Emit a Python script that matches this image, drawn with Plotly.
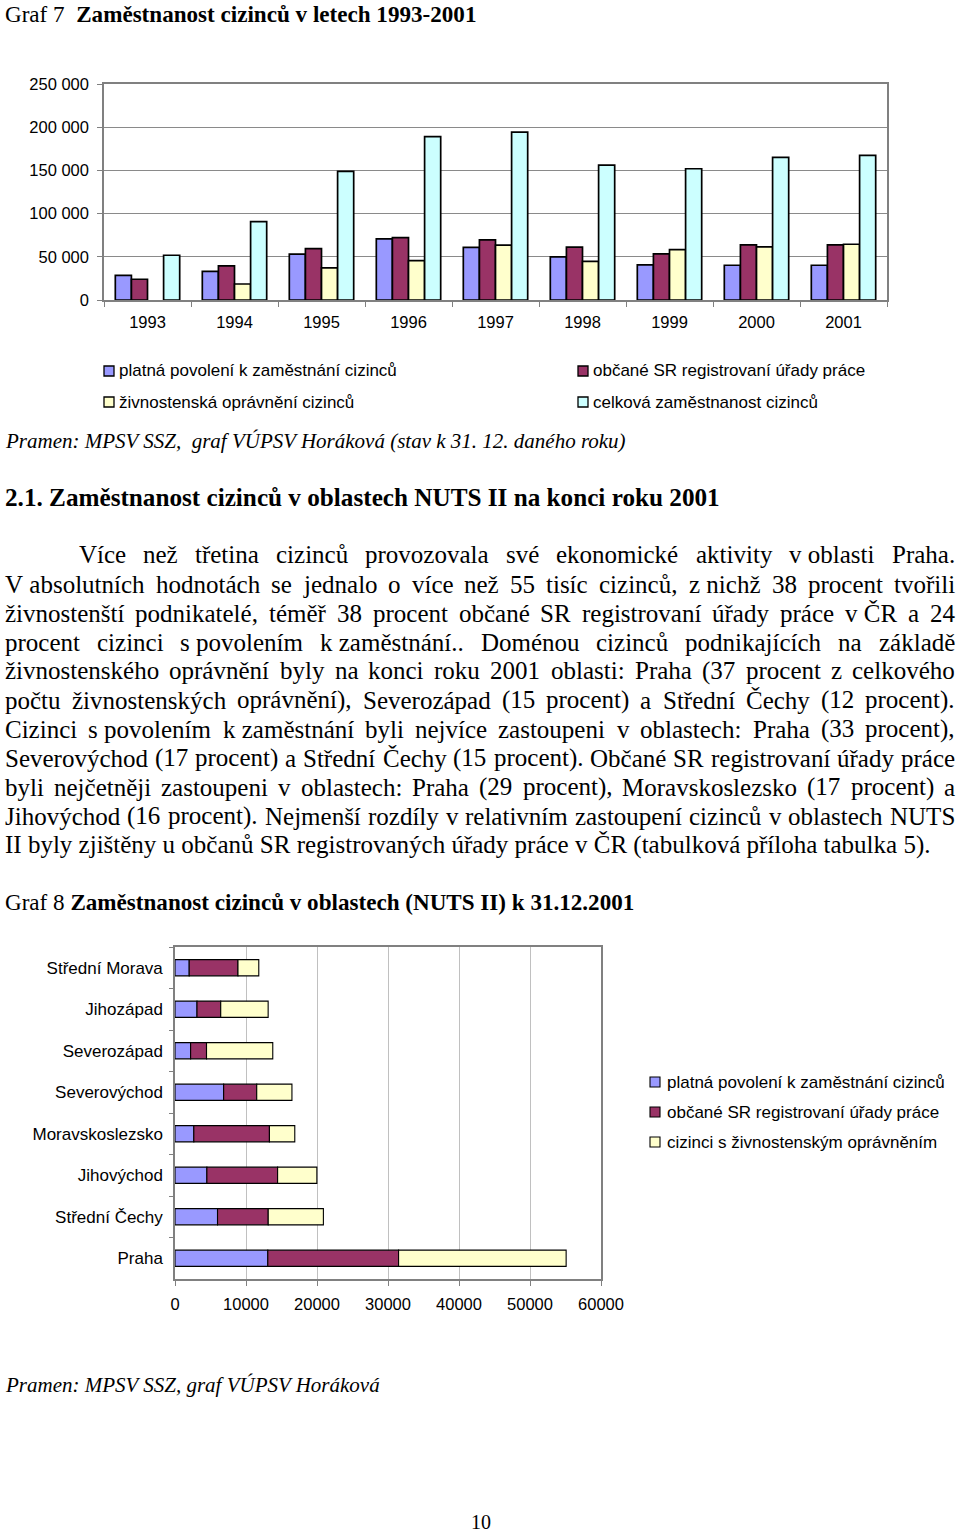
import unicodedata
import plotly.graph_objects as go

W, H = 960, 1533

# ---------------- Chart 1 data (Graf 7) ----------------
years = ["1993", "1994", "1995", "1996", "1997", "1998", "1999", "2000", "2001"]
povoleni = [28600, 33200, 53000, 70700, 61000, 49900, 40600, 40200, 40200]
obcane_sr = [24000, 39400, 59500, 72300, 69600, 61100, 53300, 63800, 63800]
zivnost = [None, 18500, 37100, 45600, 63400, 44800, 58400, 61500, 64500]
celkem = [51800, 90800, 148800, 189000, 194400, 156100, 151900, 165000, 167400]
names1 = ["platná povolení k zaměstnání cizinců", "občané SR registrovaní úřady práce",
          "živnostenská oprávnění cizinců", "celková zaměstnanost cizinců"]

# ---------------- Chart 2 data (Graf 8) ----------------
regions = ["Střední Morava", "Jihozápad", "Severozápad", "Severovýchod",
           "Moravskoslezsko", "Jihovýchod", "Střední Čechy", "Praha"]
povol2 = [2000, 3100, 2200, 6850, 2650, 4490, 5990, 13070]
sr2 = [6870, 3340, 2240, 4660, 10650, 9960, 7140, 18420]
ziv2 = [2930, 6680, 9330, 4960, 3570, 5530, 7770, 23600]
names2 = ["platná povolení k zaměstnání cizinců", "občané SR registrovaní úřady práce",
          "cizinci s živnostenským oprávněním"]

C_BLUE, C_MAROON, C_YELLOW, C_CYAN = "#9999FF", "#993366", "#FFFFCC", "#CCFFFF"
SANS = "Liberation Sans, Arial, sans-serif"
SERIF = "Liberation Serif, Times New Roman, serif"

fig = go.Figure()

cols1 = [C_BLUE, C_MAROON, C_YELLOW, C_CYAN]
for vals, nm, c in zip([povoleni, obcane_sr, zivnost, celkem], names1, cols1):
    fig.add_trace(go.Bar(x=years, y=vals, name=nm, marker=dict(color=c, line=dict(color="black", width=1.7)),
                         xaxis="x", yaxis="y", showlegend=False))

base_sr = [a for a in povol2]
base_ziv = [a + b for a, b in zip(povol2, sr2)]
for vals, base, nm, c in zip([povol2, sr2, ziv2], [None, base_sr, base_ziv], names2,
                             [C_BLUE, C_MAROON, C_YELLOW]):
    kw = dict(base=base) if base is not None else {}
    fig.add_trace(go.Bar(y=regions, x=vals, orientation="h", name=nm, offsetgroup="stack",
                         width=0.39, marker=dict(color=c, line=dict(color="black", width=1.1)),
                         xaxis="x2", yaxis="y2", showlegend=False, **kw))


def py(y):
    return 1 - y / H


def px(x):
    return x / W


ann = []
shapes = []


def txt(x, y, text, size, family=SERIF, anchor="left", yanchor="middle"):
    ann.append(dict(x=px(x), y=py(y), xref="paper", yref="paper", text=text, showarrow=False,
                    xanchor=anchor, yanchor=yanchor, borderpad=0, borderwidth=0,
                    font=dict(family=family, size=size, color="black")))


# Titles and source lines
txt(5, 0.5, "Graf 7\u00a0\u00a0<b>Zaměstnanost cizinců v letech 1993-2001</b>", 23.1, yanchor="top")
txt(5, 441, "<i>Pramen: MPSV SSZ,\u00a0\u00a0graf VÚPSV Horáková (stav k 31. 12. daného roku)</i>", 21)
txt(5, 497, "<b>2.1. Zaměstnanost cizinců v oblastech NUTS II na konci roku 2001</b>", 25.2)
txt(5, 902, "Graf 8 <b>Zaměstnanost cizinců v oblastech (NUTS II) k 31.12.2001</b>", 23.1)
txt(5, 1385, "<i>Pramen: MPSV SSZ, graf VÚPSV Horáková</i>", 21)
txt(481, 1522, "10", 20, anchor="center")

# Legends (manual, matching the original placement)
leg1 = [(104, 371, cols1[0], names1[0]), (578, 371, cols1[1], names1[1]),
        (104, 402, cols1[2], names1[2]), (578, 402, cols1[3], names1[3])]
for x, y, c, nm in leg1:
    shapes.append(dict(type="rect", xref="paper", yref="paper", x0=px(x), x1=px(x + 10),
                       y0=py(y + 5), y1=py(y - 5), fillcolor=c, line=dict(color="black", width=1.3)))
    txt(x + 15, y, nm, 17, SANS)

leg2 = [(650, 1082, C_BLUE, names2[0]), (650, 1112, C_MAROON, names2[1]), (650, 1142, C_YELLOW, names2[2])]
for x, y, c, nm in leg2:
    shapes.append(dict(type="rect", xref="paper", yref="paper", x0=px(x), x1=px(x + 10),
                       y0=py(y + 5), y1=py(y - 5), fillcolor=c, line=dict(color="black", width=1.1)))
    txt(x + 17, y, nm, 17, SANS)

# Justified paragraph
para = [
    "Více než třetina cizinců provozovala své ekonomické aktivity v\u00a0oblasti Praha.",
    "V\u00a0absolutních hodnotách se jednalo o více než 55 tisíc cizinců, z\u00a0nichž 38 procent tvořili",
    "živnostenští podnikatelé, téměř 38 procent občané SR registrovaní úřady práce v\u00a0ČR a 24",
    "procent cizinci s\u00a0povolením k\u00a0zaměstnání.. Doménou cizinců podnikajících na základě",
    "živnostenského oprávnění byly na konci roku 2001 oblasti: Praha (37 procent z celkového",
    "počtu živnostenských oprávnění), Severozápad (15 procent) a Střední Čechy (12 procent).",
    "Cizinci s\u00a0povolením k\u00a0zaměstnání byli nejvíce zastoupeni v oblastech: Praha (33 procent),",
    "Severovýchod (17 procent) a Střední Čechy (15 procent). Občané SR registrovaní úřady práce",
    "byli nejčetněji zastoupeni v oblastech: Praha (29 procent), Moravskoslezsko (17 procent) a",
    "Jihovýchod (16 procent). Nejmenší rozdíly v relativním zastoupení cizinců v oblastech NUTS",
    "II byly zjištěny u občanů SR registrovaných úřady práce v ČR (tabulková příloha tabulka 5).",
]

TW = {' ': 250, '\u00a0': 250, '(': 333, ')': 333, ',': 250, '-': 333, '.': 250, ':': 278, ';': 278,
      'A': 722, 'B': 667, 'C': 667, 'D': 722, 'E': 611, 'F': 556, 'G': 722, 'H': 722, 'I': 333,
      'J': 389, 'K': 722, 'L': 611, 'M': 889, 'N': 722, 'O': 722, 'P': 556, 'Q': 722, 'R': 667,
      'S': 556, 'T': 611, 'U': 722, 'V': 722, 'W': 944, 'X': 722, 'Y': 722, 'Z': 611,
      'a': 444, 'b': 500, 'c': 444, 'd': 500, 'e': 444, 'f': 333, 'g': 500, 'h': 500, 'i': 278,
      'j': 278, 'k': 500, 'l': 278, 'm': 778, 'n': 500, 'o': 500, 'p': 500, 'q': 500, 'r': 333,
      's': 389, 't': 278, 'u': 500, 'v': 500, 'w': 722, 'x': 500, 'y': 500, 'z': 444}


def wem(word):
    tot = 0
    for ch in word:
        if ch.isdigit():
            tot += 500
            continue
        b = ch if ch in TW else unicodedata.normalize("NFD", ch)[0]
        tot += TW.get(b, 500)
    return tot / 1000.0


PS = 25.0
MIN_GAP = 4.5
for i, line in enumerate(para):
    y = 555 + 29 * i
    if i == len(para) - 1:
        txt(5, y, line, PS)
        continue
    x0 = 79 if i == 0 else 5
    x1 = 955
    words = line.split(" ")
    ems = [wem(w) for w in words]
    n = len(words)
    size = PS
    if (x1 - x0 - sum(ems) * size) / (n - 1) < MIN_GAP:
        size = (x1 - x0 - (n - 1) * MIN_GAP) / sum(ems)
    widths = [e * size for e in ems]
    gap = (x1 - x0 - sum(widths)) / (n - 1)
    x = x0
    for w, wd in zip(words, widths):
        txt(x, y, w, size)
        x += wd + gap

axis_common = dict(automargin=False)

fig.update_layout(
    width=W, height=H, autosize=False,
    margin=dict(l=0, r=0, t=0, b=0, pad=0, autoexpand=False),
    paper_bgcolor="white", plot_bgcolor="white",
    barmode="group", bargap=0.26, bargroupgap=0,
    separators=", ",
    showlegend=False,
    annotations=ann, shapes=shapes,
    xaxis=dict(domain=[px(104), px(887)], anchor="y", type="category",
               showline=True, mirror=True, linecolor="#808080", linewidth=1.5,
               ticks="outside", tickson="boundaries", ticklen=5, tickcolor="#808080",
               tickfont=dict(family=SANS, size=16.5, color="black"), ticklabelstandoff=6,
               showgrid=False, **axis_common),
    yaxis=dict(domain=[py(300), py(84)], anchor="x", range=[0, 250000], dtick=50000,
               tickformat=",d", showline=True, mirror=True, linecolor="#808080", linewidth=1.5,
               gridcolor="#8a8a8a", gridwidth=1, zeroline=False,
               ticks="outside", ticklen=5, tickcolor="#808080", ticklabelstandoff=5,
               tickfont=dict(family=SANS, size=16.5, color="black"), **axis_common),
    xaxis2=dict(domain=[px(175), px(601)], anchor="y2", range=[0, 60000], dtick=10000,
                tickformat="d", showline=True, mirror=True, linecolor="#808080", linewidth=1.5,
                gridcolor="#c0c0c0", gridwidth=1, zeroline=False,
                ticks="outside", ticklen=5, tickcolor="#808080", ticklabelstandoff=4,
                tickfont=dict(family=SANS, size=16.5, color="black"), **axis_common),
    yaxis2=dict(domain=[py(1279), py(947)], anchor="x2", type="category", autorange="reversed",
                showline=True, mirror=True, linecolor="#808080", linewidth=1.5,
                ticks="outside", tickson="boundaries", ticklen=4, tickcolor="#808080",
                ticklabelstandoff=7, showgrid=False,
                tickfont=dict(family=SANS, size=17, color="black"), **axis_common),
)

fig.write_html(
    "out.html",
    config={"displayModeBar": False},
    post_script="document.body.style.margin='0px';document.body.style.padding='0px';"
                "document.documentElement.style.margin='0px';",
)
